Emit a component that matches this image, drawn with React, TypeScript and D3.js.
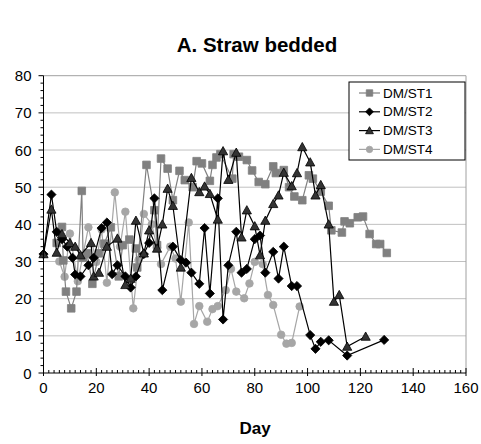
import React from "react";
import * as d3 from "d3";

const seriesNames = ["DM/ST1", "DM/ST2", "DM/ST3", "DM/ST4"];

const days1 = [5, 7, 7.5, 8.5, 10.5, 12.5, 14.5, 15, 16.5, 18.5, 21, 23, 25.5, 28.5, 30, 32.5, 35, 35.5, 39, 42, 43, 44.5, 47, 49, 51.5, 53.5, 56.5, 58, 60, 63, 64, 65.5, 67, 71.5, 72, 74, 77, 79, 81.5, 84, 87, 88, 91, 93, 95, 98, 100.5, 102, 105, 108, 109, 113, 114, 116, 119, 121, 123.5, 126, 127.5, 130];
const vals1 = [35, 39.3, 30.3, 21.9, 17.4, 21.9, 49, 31, 32.2, 24, 32.2, 34.8, 39.2, 26, 34.4, 35.9, 33.5, 28.4, 56, 43.8, 34.4, 57.7, 55, 46.5, 54.4, 51.9, 50, 57, 56.4, 51.7, 56, 58, 58.9, 52.3, 58.9, 58.2, 57.3, 54.5, 51.4, 50.8, 55.6, 53.8, 54.6, 50, 47.5, 46.5, 53.2, 52.3, 48.8, 45, 38.4, 37.8, 40.8, 40.3, 41.9, 42.1, 37.4, 34.7, 34.7, 32.3];

const days2 = [0, 3, 5, 7, 9, 11, 12, 14, 17, 19, 22, 24, 26, 28, 31, 33, 35, 38, 40, 42, 45, 49, 52, 54, 56, 59, 61, 63, 66, 68, 70, 73, 75, 77, 80, 82, 84, 87, 89, 91, 94, 96, 101, 103, 105, 108, 115, 129];
const vals2 = [32, 48, 38, 36, 34, 31, 26.5, 26, 29, 31, 39, 40.5, 26.6, 29, 26, 23, 26, 32, 35, 47, 22.3, 34, 30.4, 29.7, 27, 24, 39, 21.4, 47, 14.4, 29, 38, 27, 28, 36, 37, 27, 32.6, 25.4, 34, 23.4, 23.4, 10.2, 6.5, 8.4, 8.8, 4.7, 8.9];

const days3 = [0, 3, 5, 7, 10, 12, 14, 18, 19, 21, 24, 28, 31, 33, 35, 38, 40, 43, 45, 47, 49, 52, 56, 59, 61, 63, 66, 68, 70, 73, 75, 77, 80, 82, 84, 87, 89, 91, 94, 96, 98, 101, 103, 105, 108, 110, 112, 115, 122];
const vals3 = [32, 44, 32.4, 37.4, 35, 34, 31.7, 35, 26, 27, 34, 36.2, 23.7, 25.4, 41, 32.2, 38.4, 33.5, 40, 49.6, 45, 28.4, 52.5, 48.7, 50.2, 48.2, 41.3, 59.7, 52, 59.3, 36.5, 43.8, 39.5, 31.7, 41, 45.5, 47.8, 53.9, 50.3, 53.8, 60.8, 56.7, 47.8, 50.6, 40, 19.2, 21, 7.1, 9.8];

const days4 = [6, 8, 10, 13, 17, 20, 22, 24, 27, 29, 31, 34, 36, 38, 41, 43, 44.5, 48, 50, 52, 55, 57, 59, 62, 64, 66, 69, 71, 73, 76, 78, 80, 83, 85, 87, 90, 92, 94, 97];
const vals4 = [30, 25.9, 37.5, 24.7, 39.2, 29.9, 38.6, 24.3, 48.6, 34, 43.4, 17.4, 30.4, 42.8, 40, 33.8, 29.3, 34, 30.8, 19.2, 40.5, 13.2, 18, 13.8, 17.2, 18, 22.3, 28, 21.9, 20.1, 24.1, 29.9, 29.3, 21, 18.3, 10.3, 7.9, 8.1, 17.9];

const xTicks = [0, 20, 40, 60, 80, 100, 120, 140, 160];
const yTicks = [0, 10, 20, 30, 40, 50, 60, 70, 80];

const W = 481, H = 444;
const FONT = "'Liberation Sans', Arial, sans-serif";

type Marker = "square" | "diamond" | "triangle" | "circle";

function markerPath(kind: Marker, r: number): string {
  const p = d3.path();
  if (kind === "square") {
    p.rect(-r, -r, 2 * r, 2 * r);
  } else if (kind === "diamond") {
    p.moveTo(0, -r); p.lineTo(r, 0); p.lineTo(0, r); p.lineTo(-r, 0); p.closePath();
  } else if (kind === "triangle") {
    p.moveTo(0, -r); p.lineTo(r, r * 0.8); p.lineTo(-r, r * 0.8); p.closePath();
  } else {
    p.arc(0, 0, r, 0, Math.PI * 2);
  }
  return p.toString();
}

const styles: { marker: Marker; r: number; line: string; fill: string; stroke: string }[] = [
  { marker: "square", r: 3.8, line: "#808080", fill: "#808080", stroke: "#808080" },
  { marker: "diamond", r: 4.6, line: "#000000", fill: "#000000", stroke: "#000000" },
  { marker: "triangle", r: 4.6, line: "#000000", fill: "#333333", stroke: "#000000" },
  { marker: "circle", r: 3.8, line: "#a6a6a6", fill: "#a6a6a6", stroke: "#a6a6a6" },
];

export default function App() {
  const x = d3.scaleLinear().domain([0, 160]).range([43.5, 466]);
  const y = d3.scaleLinear().domain([0, 80]).range([373, 75.7]);

  const allDays = [days1, days2, days3, days4];
  const allVals = [vals1, vals2, vals3, vals4];
  const series = allDays.map((ds, i) => ds.map((d, j) => [d, allVals[i][j]] as [number, number]));

  const line = d3.line<[number, number]>().x((d) => x(d[0])).y((d) => y(d[1]));

  const minorX = d3.range(0, 161, 2).filter((v) => v % 20 !== 0);
  const minorY = d3.range(0, 81, 2).filter((v) => v % 10 !== 0);

  const drawOrder = [3, 0, 1, 2];
  const x0 = x(0), y0 = y(0), x1 = x(160), y1 = y(80);

  const legX = 349, legY = 82, legW = 116, legH = 78;
  const legRow = 18.8;

  return (
    <svg width={W} height={H} style={{ position: "absolute", left: 0, top: 0, background: "#fff" }} fontFamily={FONT}>
      <rect x={0} y={0} width={W} height={H} fill="#fff" />
      <text x={257} y={52} textAnchor="middle" fontSize={20.5} fontWeight="bold">A. Straw bedded</text>

      {yTicks.filter((v) => v > 0).map((v) => (
        <line key={"g" + v} x1={x0} x2={x1} y1={y(v)} y2={y(v)} stroke={v === 80 ? "#a0a0a0" : "#c0c0c0"} strokeWidth={1} />
      ))}
      <line x1={x1} x2={x1} y1={y1} y2={y0} stroke="#a0a0a0" strokeWidth={1} />

      {drawOrder.map((i) => {
        const s = styles[i];
        const pts = series[i];
        return (
          <g key={"s" + i}>
            <path d={line(pts) || ""} fill="none" stroke={s.line} strokeWidth={1.2} />
            {pts.map((p, j) => (
              <path key={j} d={markerPath(s.marker, s.r)} transform={`translate(${x(p[0])},${y(p[1])})`} fill={s.fill} stroke={s.stroke} strokeWidth={0.8} />
            ))}
          </g>
        );
      })}

      <line x1={x0} x2={x0} y1={y1} y2={y0} stroke="#000" strokeWidth={1} />
      <line x1={x0} x2={x1} y1={y0} y2={y0} stroke="#000" strokeWidth={1} />
      {yTicks.map((v) => (
        <g key={"yt" + v}>
          <line x1={x0 - 5} x2={x0} y1={y(v)} y2={y(v)} stroke="#000" />
          <text x={x0 - 12} y={y(v) + 5.5} textAnchor="end" fontSize={15}>{v}</text>
        </g>
      ))}
      {minorY.map((v) => (
        <line key={"my" + v} x1={x0 - 3} x2={x0} y1={y(v)} y2={y(v)} stroke="#000" />
      ))}
      {xTicks.map((v) => (
        <g key={"xt" + v}>
          <line x1={x(v)} x2={x(v)} y1={y0 - 5} y2={y0 + 3} stroke="#000" />
          <text x={x(v)} y={y0 + 20} textAnchor="middle" fontSize={15}>{v}</text>
        </g>
      ))}
      {minorX.map((v) => (
        <line key={"mx" + v} x1={x(v)} x2={x(v)} y1={y0 - 3} y2={y0} stroke="#000" />
      ))}

      <text x={255} y={434} textAnchor="middle" fontSize={17} fontWeight="bold">Day</text>

      <rect x={legX} y={legY} width={legW} height={legH} fill="#fff" stroke="#000" strokeWidth={1} />
      {seriesNames.map((n, i) => {
        const s = styles[i];
        const cy = legY + 11 + i * legRow;
        return (
          <g key={"l" + i}>
            <line x1={legX + 10} x2={legX + 31} y1={cy} y2={cy} stroke={s.line} strokeWidth={1.2} />
            <path d={markerPath(s.marker, s.r * 0.85)} transform={`translate(${legX + 20.5},${cy})`} fill={s.fill} stroke={s.stroke} strokeWidth={0.8} />
            <text x={legX + 34} y={cy + 4.5} fontSize={13.5}>{n}</text>
          </g>
        );
      })}
    </svg>
  );
}
